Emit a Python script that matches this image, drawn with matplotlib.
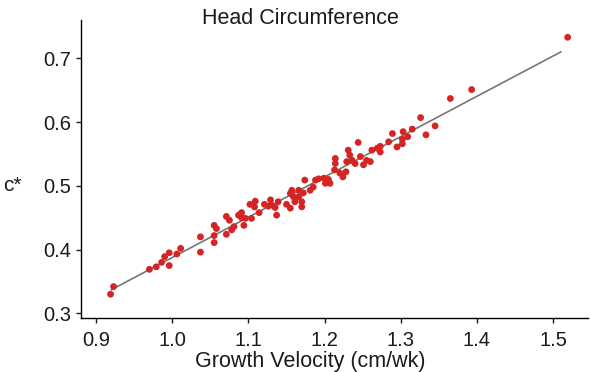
import numpy as np
import matplotlib
matplotlib.use("Agg")
from matplotlib import pyplot as plt

# growth velocity (cm/wk) and c*
velocity = [0.919, 0.923, 0.970, 0.979, 0.986, 0.990, 0.996, 0.996, 1.006, 1.011,
            1.037, 1.037, 1.055, 1.058, 1.055, 1.055, 1.071, 1.075, 1.078, 1.081,
            1.071, 1.091, 1.087, 1.096, 1.094, 1.104, 1.102, 1.109, 1.108, 1.114,
            1.121, 1.126, 1.130, 1.137, 1.139, 1.135, 1.129, 1.150, 1.155, 1.157,
            1.159, 1.161, 1.166, 1.170, 1.172, 1.170, 1.155, 1.174, 1.181, 1.185,
            1.188, 1.192, 1.199, 1.201, 1.205, 1.207, 1.214, 1.214, 1.213, 1.224,
            1.220, 1.228, 1.229, 1.231, 1.233, 1.236, 1.240, 1.244, 1.247, 1.251,
            1.255, 1.260, 1.262, 1.269, 1.273, 1.273, 1.284, 1.289, 1.295, 1.302,
            1.302, 1.303, 1.309, 1.315, 1.326, 1.333, 1.345, 1.365, 1.393, 1.519,
            1.166, 1.091]
c_star = [0.330, 0.342, 0.369, 0.373, 0.380, 0.389, 0.395, 0.375, 0.393, 0.402,
          0.420, 0.396, 0.438, 0.433, 0.422, 0.411, 0.452, 0.446, 0.431, 0.436,
          0.424, 0.458, 0.454, 0.449, 0.438, 0.449, 0.471, 0.476, 0.467, 0.458,
          0.471, 0.468, 0.470, 0.454, 0.475, 0.466, 0.478, 0.471, 0.488, 0.493,
          0.483, 0.475, 0.483, 0.475, 0.489, 0.467, 0.465, 0.509, 0.493, 0.498,
          0.509, 0.511, 0.512, 0.504, 0.510, 0.504, 0.543, 0.535, 0.525, 0.514,
          0.520, 0.522, 0.538, 0.556, 0.548, 0.540, 0.535, 0.568, 0.546, 0.533,
          0.540, 0.538, 0.556, 0.559, 0.562, 0.553, 0.569, 0.582, 0.561, 0.566,
          0.573, 0.585, 0.577, 0.589, 0.607, 0.580, 0.594, 0.637, 0.651, 0.733,
          0.493, 0.450]

x_ticks = [0.9, 1.0, 1.1, 1.2, 1.3, 1.4, 1.5]
y_ticks = [0.3, 0.4, 0.5, 0.6, 0.7]

plt.rcParams['font.family'] = ['Liberation Sans', 'DejaVu Sans']

fig = plt.figure(figsize=(5.9, 3.72), dpi=100)
ax = fig.add_axes([0.137, 0.145, 0.86, 0.801])

vx = np.array(velocity)
cy = np.array(c_star)
slope, intercept = np.polyfit(vx, cy, 1)
xs = np.array([0.92, 1.51])
ax.plot(xs, slope * xs + intercept, color='#767676', lw=1.2, zorder=1)
ax.scatter(vx, cy, s=24, color='#d42424', edgecolors='none', zorder=2)

ax.set_xlim(0.880, 1.546)
ax.set_ylim(0.2926, 0.760)
ax.set_xticks(x_ticks)
ax.set_yticks(y_ticks)
ax.set_xticklabels(['%.1f' % t for t in x_ticks])
ax.set_yticklabels(['%.1f' % t for t in y_ticks])
ax.spines['top'].set_visible(False)
ax.spines['right'].set_visible(False)
for s in ['left', 'bottom']:
    ax.spines[s].set_linewidth(1.0)
ax.tick_params(axis='both', labelsize=14.5, length=3.5, width=1.0, colors='#1a1a1a')
ax.tick_params(axis='x', pad=6)
ax.tick_params(axis='y', pad=3.5)

ax.set_xlabel('Growth Velocity (cm/wk)', fontsize=15.5, color='#1a1a1a')
ax.xaxis.set_label_coords(0.452, -0.111)
ax.set_ylabel('c*', fontsize=15, rotation=0, color='#1a1a1a', va='center', ha='center')
ax.yaxis.set_label_coords(-0.134, 0.446)

fig.text(0.509, 0.949, 'Head Circumference', fontsize=15.5, ha='center', va='center',
         color='#1a1a1a')

fig.savefig('out.png', dpi=100)
